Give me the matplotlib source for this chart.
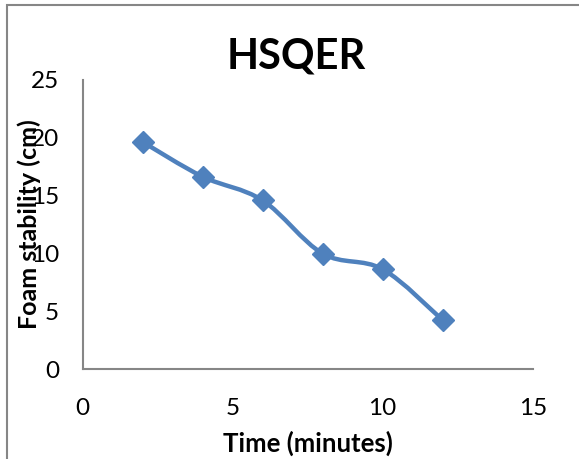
import numpy as np
import matplotlib
matplotlib.use("Agg")
import matplotlib.pyplot as plt
from matplotlib.path import Path
from matplotlib.patches import PathPatch, Rectangle

# data
time_min = [2, 4, 6, 8, 10, 12]
foam_cm = [19.65, 16.65, 14.6, 10.0, 8.65, 4.25]
x_ticks = [0, 5, 10, 15]
y_ticks = [0, 5, 10, 15, 20, 25]

blue = "#4F81BD"
grey = "#868686"
plt.rcParams["font.family"] = ["Lato", "DejaVu Sans"]

fig = plt.figure(figsize=(5.79, 4.59), dpi=100)
ax = fig.add_axes([82.5 / 579, 1 - 369.3 / 459, (532.7 - 82.5) / 579, (369.3 - 80) / 459])

# excel style smoothed line (bezier through the points)
pts = np.column_stack([time_min, foam_cm])
verts = [pts[0]]
codes = [Path.MOVETO]
n = len(pts)
for i in range(n - 1):
    p0 = pts[max(i - 1, 0)]
    p1 = pts[i]
    p2 = pts[i + 1]
    p3 = pts[min(i + 2, n - 1)]
    verts += [p1 + (p2 - p0) / 6, p2 - (p3 - p1) / 6, p2]
    codes += [Path.CURVE4] * 3
ax.add_patch(PathPatch(Path(verts, codes), facecolor="none", edgecolor=blue,
                       lw=3.2, capstyle="round", joinstyle="round", zorder=2))
ax.plot(time_min, foam_cm, linestyle="none", marker="D", markersize=11,
        color=blue, zorder=3)

ax.set_xlim(0, 15)
ax.set_ylim(0, 25)
ax.set_xticks(x_ticks)
ax.set_yticks(y_ticks)
ax.tick_params(length=0, labelsize=17.5)
ax.tick_params(axis="x", pad=21)
ax.tick_params(axis="y", pad=17)
for s in ["top", "right"]:
    ax.spines[s].set_visible(False)
for s in ["left", "bottom"]:
    ax.spines[s].set_color(grey)
    ax.spines[s].set_linewidth(1.5)

ax.set_title("HSQER", fontsize=30, fontweight="bold", x=0.475, pad=8)
ax.set_xlabel("Time (minutes)", fontsize=18.5, fontweight="bold", labelpad=8)
fig.text(29 / 579, 1 - 224 / 459, "Foam stability (cm)", rotation=90,
         fontsize=18, fontweight="bold", ha="center", va="center")

# chart area border
fig.patches.append(Rectangle((7 / 579, -0.05), 1.1, 1 - 5 / 459 + 0.05,
                             transform=fig.transFigure, fill=False,
                             edgecolor=grey, lw=1.5))

fig.savefig("out.png", dpi=100)
